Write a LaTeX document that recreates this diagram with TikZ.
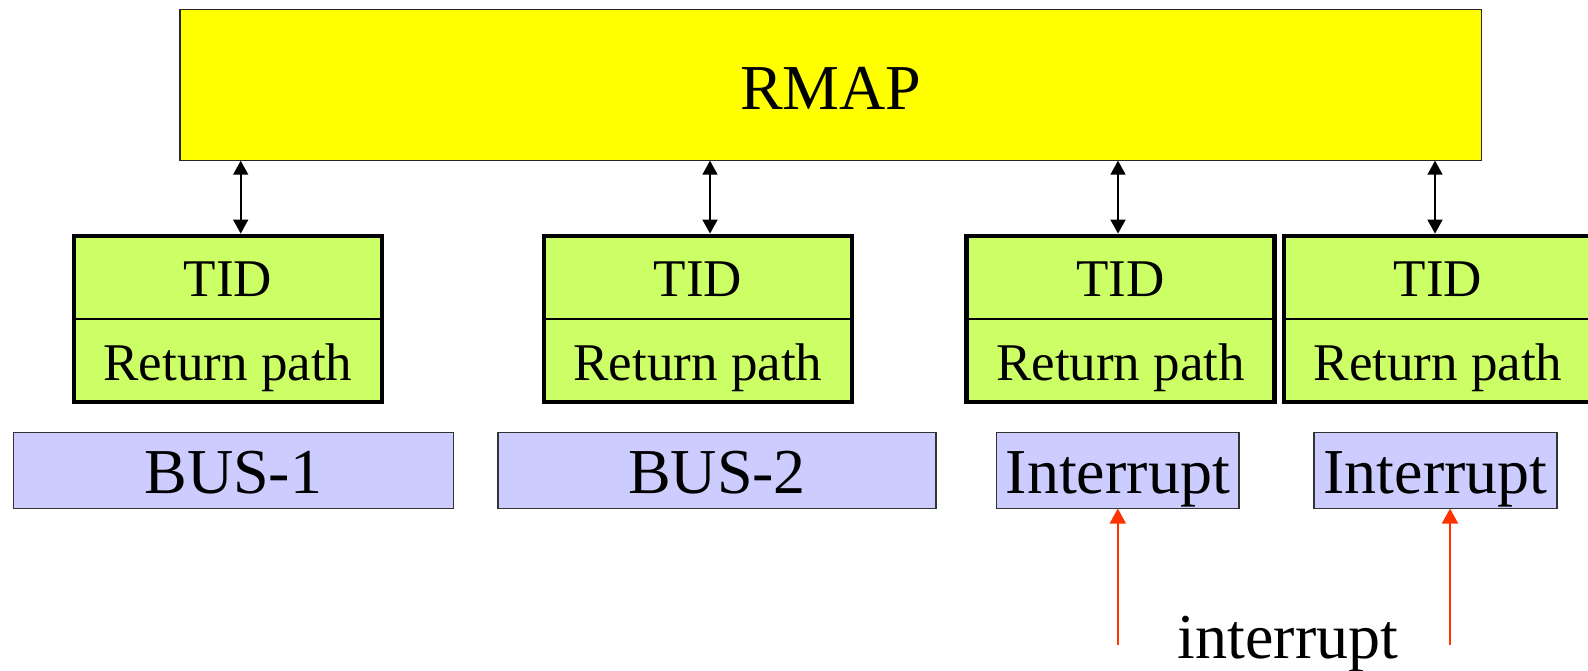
\documentclass[tikz,border=0pt]{standalone}
\usepackage{fontspec}
\setmainfont{Liberation Serif}
\usetikzlibrary{arrows.meta}

\definecolor{rmapyellow}{HTML}{FFFF00}
\definecolor{tidgreen}{HTML}{CCFF66}
\definecolor{buslilac}{HTML}{CCCCFF}
\definecolor{irqred}{HTML}{FF3300}

\tikzset{
  rmapbox/.style={draw=black!85, line width=0.6pt, fill=rmapyellow, inner sep=0pt, outer sep=0pt,
    minimum width=650.75pt, minimum height=75.7pt,
    font=\fontsize{32}{38}\selectfont, text height=24.5pt, text depth=0pt},
  tidcell/.style={fill=tidgreen, inner sep=0pt, outer sep=0pt,
    minimum width=154pt, minimum height=41.5pt,
    font=\fontsize{26.5}{32}\selectfont, text height=19.2pt, text depth=0pt},
  pathcell/.style={tidcell, text height=19.5pt},
  framebox/.style={line width=2.35pt, draw=black},
  divider/.style={line width=1pt, draw=black},
  busbox/.style={draw=black!80, line width=0.6pt, fill=buslilac, inner sep=0pt, outer sep=0pt,
    minimum height=38pt,
    font=\fontsize{32}{38}\selectfont, text height=22.5pt, text depth=0pt},
  biarrow/.style={line width=0.8pt, {Triangle[length=7pt,width=7.5pt]}-{Triangle[length=7pt,width=7.5pt]}},
  irqarrow/.style={line width=0.85pt, draw=irqred, -{Triangle[length=7.5pt,width=8pt]}},
  plainlabel/.style={inner sep=0pt, font=\fontsize{32}{38}\selectfont, anchor=base}
}

\begin{document}
\begin{tikzpicture}[x=0.5pt, y=-0.5pt]
  \useasboundingbox (0,0) rectangle (1588,670);

  % protocol engine
  \node[rmapbox] (rmap) at (830.75,85) {RMAP};

  % transaction identifier / return path tables
  \foreach \n/\cx in {1/228, 2/698, 3/1120.5, 4/1438} {
    \node[tidcell]  (tid\n) at (\cx,277.5) {TID};
    \node[pathcell] (rp\n)  at (\cx,360.5) {Return path};
    \draw[divider] (tid\n.south west) -- (tid\n.south east);
    \draw[framebox] (tid\n.north west) rectangle (rp\n.south east);
  }

  % links between engine and tables
  \foreach \n/\dx in {1/6.35pt, 2/6pt, 3/-1.25pt, 4/-1.5pt} {
    \draw[biarrow] ([xshift=\dx]tid\n.north |- rmap.south) -- ([xshift=\dx, yshift=1.2pt]tid\n.north);
  }

  % sources
  \node[busbox, minimum width=220pt]   (bus1) at (233.3,470.5)  {BUS-1};
  \node[busbox, minimum width=219pt]   (bus2) at (717,470.5)    {BUS-2};
  \node[busbox, minimum width=121.2pt] (int1) at (1117.8,470.5) {Interrupt};
  \node[busbox, minimum width=121.5pt] (int2) at (1435.5,470.5) {Interrupt};

  % external interrupt lines
  \coordinate (irqA) at (1117.8,645);
  \coordinate (irqB) at (1450,645);
  \draw[irqarrow] (irqA) -- (irqA |- int1.south);
  \draw[irqarrow] (irqB) -- (irqB |- int2.south);
  \node[plainlabel] (irqtext) at (1288,658) {interrupt};
\end{tikzpicture}
\end{document}
